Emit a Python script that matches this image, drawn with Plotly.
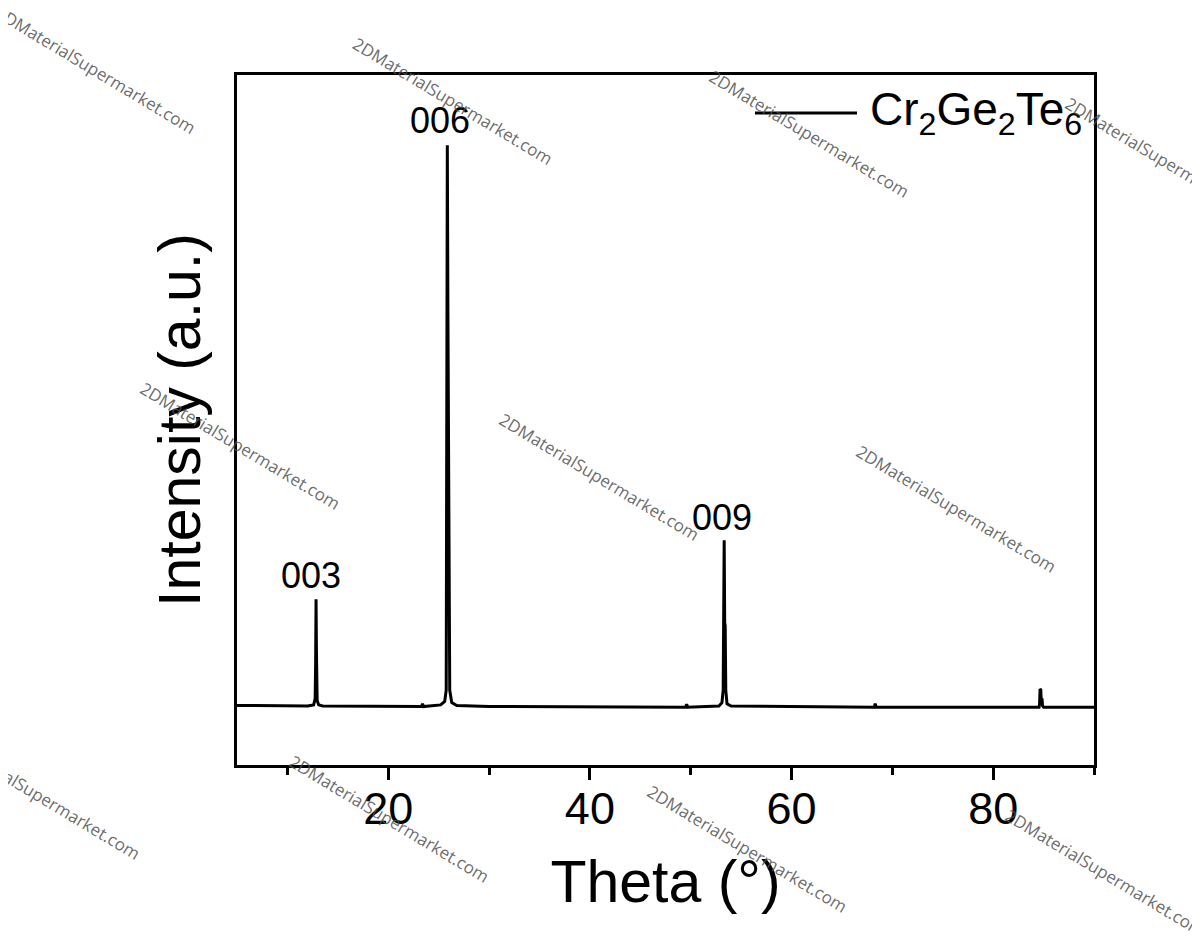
import plotly.graph_objects as go

# XRD pattern of Cr2Ge2Te6
theta = [5.0, 8.0, 12.0, 12.6, 12.75, 12.8, 12.84, 12.88, 12.95, 13.1, 13.5,
         18.0, 23.3, 23.4, 23.5, 25.2, 25.6, 25.75, 25.82, 25.86, 25.92, 25.97,
         26.03, 26.1, 26.3, 26.8, 30.0, 39.0, 45.0, 49.5, 49.6, 49.7, 52.8,
         53.1, 53.22, 53.27, 53.32, 53.37, 53.42, 53.48, 53.6, 54.0, 60.0,
         68.2, 68.3, 68.4, 75.0, 84.55, 84.6, 84.65, 84.72, 84.76, 84.85,
         84.9, 85.0, 90.0]
intensity = [0.3, 0.2, 0.2, 0.4, 1.5, 8.0, 19.2, 10.0, 1.2, 0.4, 0.2,
             0.1, 0.1, 0.6, 0.1, 0.4, 1.0, 3.0, 40.0, 100.0, 70.0, 53.0,
             20.0, 3.0, 0.8, 0.3, 0.1, 0.1, 0.0, 0.0, 0.5, 0.0, 0.2,
             0.8, 3.0, 12.0, 29.7, 15.0, 14.5, 3.0, 0.6, 0.2, 0.1,
             0.0, 0.6, 0.0, 0.0, 0.0, 0.5, 3.2, 3.1, 1.5, 1.4,
             0.2, 0.0, 0.0]

peak_labels = ["003", "006", "009"]
peak_x = [12.35, 25.15, 53.1]
peak_y = [23.5, 104.4, 33.8]

# watermark centres in pixels of the 1200x951 image
wm_px = [(95, 70), (452, 101), (809, 133), (1165, 160), (240, 445), (599, 476),
         (956, 508), (40, 795), (389, 818), (747, 848), (1105, 872)]

W, H = 1200, 951
OFF = 8  # page body margin
L, R, T, B = 237, 1094, 75, 765


def paper(px, py):
    return (px - L) / (R - L), 1 - (py - T) / (B - T)


fig = go.Figure()
fig.add_trace(go.Scatter(x=theta, y=intensity, mode="lines",
                         line=dict(color="black", width=3), showlegend=False))

for lab, px, py in zip(peak_labels, peak_x, peak_y):
    fig.add_annotation(x=px, y=py, text=lab, showarrow=False,
                       font=dict(size=36, color="black", family="Liberation Sans"))

# legend drawn by hand so the line sample is long like the original
x0, yl = paper(755, 113)
x1, _ = paper(857, 113)
fig.add_shape(type="line", xref="paper", yref="paper", x0=x0, x1=x1, y0=yl, y1=yl,
              line=dict(color="black", width=3))
xt, _ = paper(868, 113)
fig.add_annotation(xref="paper", yref="paper", x=xt, y=yl,
                   xanchor="left", yanchor="middle",
                   text="Cr<sub>2</sub>Ge<sub>2</sub>Te<sub>6</sub>", showarrow=False,
                   font=dict(size=46, color="black", family="Liberation Sans"))

for cx, cy in wm_px:
    wx, wy = paper(cx, cy)
    fig.add_annotation(xref="paper", yref="paper", x=wx, y=wy,
                       xanchor="center", yanchor="middle",
                       text="2DMaterialSupermarket.com", showarrow=False,
                       textangle=31, font=dict(size=17, color="rgba(80,80,80,0.85)",
                                               family="Open Sans"))

fig.update_layout(
    width=W, height=H,
    margin=dict(l=L - OFF, r=W - R + OFF, t=T - OFF, b=H - B + OFF),
    paper_bgcolor="white", plot_bgcolor="white",
    font=dict(family="Liberation Sans", color="black"),
    xaxis=dict(range=[5, 90], tickvals=[20, 40, 60, 80], ticks="outside",
               ticklen=12, tickwidth=2.5, tickcolor="black",
               minor=dict(tickvals=[10, 30, 50, 70, 90], ticks="outside",
                          ticklen=7, tickwidth=2.5, tickcolor="black"),
               showline=True, linecolor="black", linewidth=2.5, mirror=True,
               showgrid=False, zeroline=False,
               tickfont=dict(size=45), ticklabelstandoff=-10,
               title=dict(text="Theta (°)", font=dict(size=59), standoff=28)),
    yaxis=dict(range=[-10.3, 112.5], showticklabels=False, ticks="",
               showline=True, linecolor="black", linewidth=2.5, mirror=True,
               showgrid=False, zeroline=False,
               title=dict(text="Intensity (a.u.)", font=dict(size=59), standoff=15)),
)

fig.write_html("out.html")
